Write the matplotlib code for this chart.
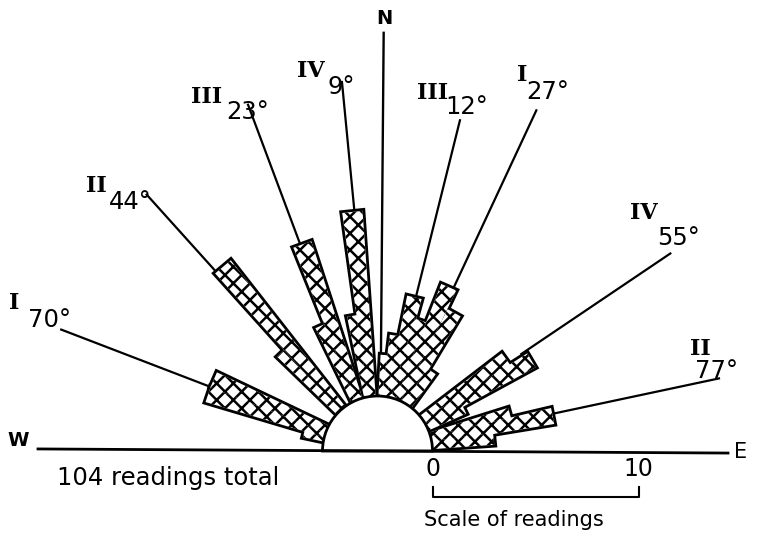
import numpy as np
import matplotlib
matplotlib.use("Agg")
import matplotlib.pyplot as plt
from matplotlib.patches import Polygon, Wedge, Rectangle

# readings per direction bin, azimuth in degrees from N (W negative)
west_deg = [-76, -71.5, -66.5, -44, -40, -24, -20, -10, -6]
west_n = [1, 6, 6, 4, 9, 4, 8, 4, 9]
east_deg = [5, 9, 13.5, 18.5, 23.5, 29, 34, 54.5, 59.5, 64, 74.5, 78.7, 84]
east_n = [2, 3, 5, 4, 6, 5, 2, 5, 6, 2, 4, 6, 3]

# joint sets and their mean strike
set_names = ["I", "II", "III", "IV", "III", "I", "IV", "II"]
set_deg = [-70, -44, -23, -9, 12, 27, 55, 77]
line_deg = [-69, -42, -20.5, -5.5, 14, 25, 56, 78]  # direction of the drawn line

# layout (scale: 1 reading = 20.6 px, centre of rose at pixel 377.5, 451)
S = 20.6
CX, CY = 377.5, 451
R = 55 / S          # radius of the central half circle
line_end = [16.5, 16.8, 18.0, 18.05, 16.6, 18.3, 17.2, 17.0]
roman_px = [(14, 303), (96, 186), (207, 97), (311, 71), (433, 93), (522, 75), (644, 213), (700, 349)]
deg_px = [(49, 320), (130, 202), (248, 112), (341, 87), (467, 107), (548, 92), (678, 238), (716, 371)]


def pix(x, y):
    return (x - CX) / S, (CY - y) / S


def half_width(r):
    # bars widen slowly outwards
    return 0.1 + 0.034 * r


def bar_poly(a, n):
    t = np.radians(a)
    u = np.array([np.sin(t), np.cos(t)])
    p = np.array([np.cos(t), -np.sin(t)])
    r0, r1 = R - 0.3, R + n
    h0, h1 = half_width(r0), half_width(r1)
    return [r0 * u - h0 * p, r1 * u - h1 * p, r1 * u + h1 * p, r0 * u + h0 * p]


fig = plt.figure(figsize=(7.64, 5.36), dpi=100)
ax = fig.add_axes([0, 0, 1, 1])
x0, y1 = pix(0, 0)
x1, y0 = pix(764, 536)
ax.set_xlim(x0, x1)
ax.set_ylim(y0, y1)
ax.set_aspect("equal")
ax.axis("off")

plt.rcParams["hatch.linewidth"] = 1.8

clip = Rectangle((-30, 0), 60, 40, transform=ax.transData)
all_deg = west_deg + east_deg
all_n = west_n + east_n

# outline layer, then hatched fill on top so only the outer edge shows
for a, n in zip(all_deg, all_n):
    pg = Polygon(bar_poly(a, n), closed=True, facecolor="black", edgecolor="black",
                 lw=4.0, joinstyle="miter", zorder=2)
    ax.add_patch(pg)
    pg.set_clip_path(clip)
for a, n in zip(all_deg, all_n):
    pg = Polygon(bar_poly(a, n), closed=True, facecolor="white", edgecolor="black",
                 lw=0, hatch="xx", zorder=3)
    ax.add_patch(pg)
    pg.set_clip_path(clip)

ax.add_patch(Wedge((0, 0), R, 0, 180, facecolor="white", edgecolor="black", lw=2.0, zorder=4))

# direction lines with set labels
for name, d, a, rend, rp, dp in zip(set_names, set_deg, line_deg, line_end, roman_px, deg_px):
    near = [n for b, n in zip(all_deg, all_n) if abs(b - a) < 5]
    rs = R + max(near) - 0.3
    t = np.radians(a)
    ax.plot([rs * np.sin(t), rend * np.sin(t)], [rs * np.cos(t), rend * np.cos(t)],
            color="black", lw=1.6, zorder=1, solid_capstyle="butt")
    ax.text(*pix(*rp), name, family="DejaVu Serif", fontweight="bold", fontsize=16,
            ha="center", va="center")
    ax.text(*pix(*dp), f"{abs(d)}°", fontsize=17.5, ha="center", va="center")

# N line, E-W line
ax.plot([0.15, 0.3], [R, 20.3], color="black", lw=1.7, zorder=1)
ax.plot([pix(38, 0)[0], pix(728, 0)[0]], [0.1, -0.1], color="black", lw=2.0, zorder=5)
ax.text(*pix(384, 18), "N", fontsize=14, fontweight="bold", ha="center", va="center")
ax.text(*pix(18, 441), "W", fontsize=14, fontweight="bold", ha="center", va="center")
ax.text(*pix(741, 452), "E", fontsize=15, ha="center", va="center")

# scale bar
ax.plot([R, R, R + 10, R + 10], [-1.75, -2.23, -2.23, -1.75], color="black", lw=1.5)
ax.text(R, -0.85, "0", fontsize=17, ha="center", va="center")
ax.text(R + 10, -0.85, "10", fontsize=17, ha="center", va="center")
ax.text(*pix(514, 520), "Scale of readings", fontsize=15, ha="center", va="center")
ax.text(*pix(168, 478), f"{sum(all_n)} readings total", fontsize=17.5, ha="center", va="center")

fig.savefig("out.png", dpi=100)
